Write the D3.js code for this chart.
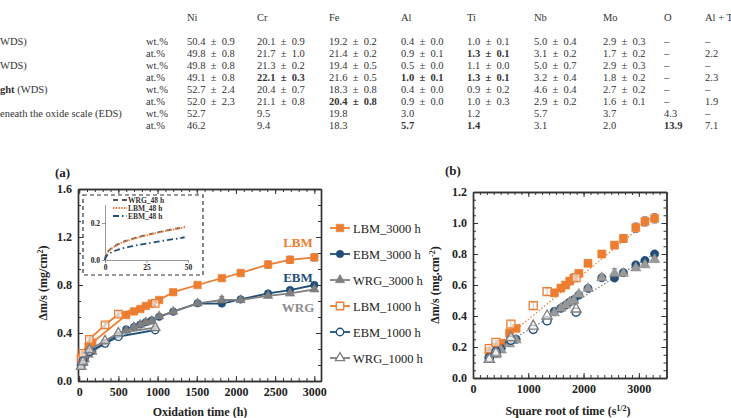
<!DOCTYPE html>
<html>
<head>
<meta charset="utf-8">
<script src="https://cdn.jsdelivr.net/npm/d3@7"></script>
<style>
  body { margin: 0; background: #fff; }
  text { font-family: "Liberation Serif", "Times New Roman", serif; }
</style>
</head>
<body>
<svg id="chart" width="731" height="418"></svg>
<script>
// ---- table data ----
const tableHeaders = ['Ni', 'Cr', 'Fe', 'Al', 'Ti', 'Nb', 'Mo', 'O', 'Al + T'];
const tableRowLabels = ['WDS)', '', 'WDS)', '', '*ght| (WDS)', '', 'eneath the oxide scale (EDS)', ''];
const tableUnits = ['wt.%', 'at.%', 'wt.%', 'at.%', 'wt.%', 'at.%', 'wt.%', 'at.%'];
// a leading * marks a bold cell
const tableRows = [
  ['50.4 ± 0.9', '20.1 ± 0.9', '19.2 ± 0.2', '0.4 ± 0.0', '1.0 ± 0.1', '5.0 ± 0.4', '2.9 ± 0.3', '–', '–'],
  ['49.8 ± 0.8', '21.7 ± 1.0', '21.4 ± 0.2', '0.9 ± 0.1', '*1.3 ± 0.1', '3.1 ± 0.2', '1.7 ± 0.2', '–', '2.2'],
  ['49.8 ± 0.8', '21.3 ± 0.2', '19.4 ± 0.5', '0.5 ± 0.0', '1.1 ± 0.0', '5.0 ± 0.7', '2.9 ± 0.3', '–', '–'],
  ['49.1 ± 0.8', '*22.1 ± 0.3', '21.6 ± 0.5', '*1.0 ± 0.1', '*1.3 ± 0.1', '3.2 ± 0.4', '1.8 ± 0.2', '–', '2.3'],
  ['52.7 ± 2.4', '20.4 ± 0.7', '18.3 ± 0.8', '0.4 ± 0.0', '0.9 ± 0.2', '4.6 ± 0.4', '2.7 ± 0.2', '–', '–'],
  ['52.0 ± 2.3', '21.1 ± 0.8', '*20.4 ± 0.8', '0.9 ± 0.0', '1.0 ± 0.3', '2.9 ± 0.2', '1.6 ± 0.1', '–', '1.9'],
  ['52.7', '9.5', '19.8', '3.0', '1.2', '5.7', '3.7', '4.3', '–'],
  ['46.2', '9.4', '18.3', '*5.7', '*1.4', '3.1', '2.0', '*13.9', '7.1']
];

// ---- chart (a): mass gain vs oxidation time ----
const timeLong = [24, 48, 72, 120, 168, 600, 700, 780, 850, 925, 1020, 1200, 1510, 1820, 2060, 2410, 2690, 3000];
const timeShort = [24, 48, 130, 330, 500, 970];

const lbm3000 = [0.17, 0.20, 0.225, 0.29, 0.32, 0.55, 0.58, 0.60, 0.625, 0.645, 0.675, 0.74, 0.80, 0.857, 0.90, 0.97, 1.01, 1.03];
const ebm3000 = [0.13, 0.16, 0.19, 0.23, 0.25, 0.43, 0.45, 0.47, 0.49, 0.505, 0.535, 0.578, 0.647, 0.645, 0.68, 0.73, 0.758, 0.80];
const wrg3000 = [0.12, 0.15, 0.18, 0.22, 0.245, 0.42, 0.45, 0.47, 0.49, 0.50, 0.54, 0.578, 0.647, 0.675, 0.675, 0.71, 0.73, 0.764];
const lbm1000 = [0.19, 0.23, 0.347, 0.467, 0.557, 0.647];
const ebm1000 = [0.13, 0.17, 0.244, 0.314, 0.369, 0.425];
const wrg1000 = [0.12, 0.16, 0.26, 0.335, 0.40, 0.445];

const lbm3000Err = [0.01, 0.01, 0.01, 0.015, 0.015, 0.02, 0.02, 0.02, 0.02, 0.02, 0.02, 0.02, 0.02, 0.02, 0.025, 0.03, 0.03, 0.03];
const ebm3000Err = [0.01, 0.01, 0.01, 0.01, 0.01, 0.01, 0.01, 0.01, 0.01, 0.01, 0.01, 0.01, 0.01, 0.01, 0.015, 0.015, 0.015, 0.015];
const wrg3000Err = [0.01, 0.01, 0.01, 0.01, 0.01, 0.01, 0.01, 0.01, 0.01, 0.01, 0.01, 0.01, 0.015, 0.03, 0.015, 0.015, 0.015, 0.015];
const lbm1000Err = [0.01, 0.01, 0.02, 0.02, 0.02, 0.02];
const ebm1000Err = [0.01, 0.01, 0.01, 0.01, 0.01, 0.01];
const wrg1000Err = [0.01, 0.01, 0.01, 0.01, 0.01, 0.01];

// inset: first 48 h
const insetTime = [0, 0.5, 1, 2, 4, 6, 8, 10, 15, 20, 25, 30, 35, 40, 45, 48];
const wrg48 = [0, 0.025, 0.035, 0.048, 0.064, 0.076, 0.086, 0.095, 0.11, 0.124, 0.135, 0.146, 0.156, 0.165, 0.174, 0.18];
const lbm48 = [0, 0.024, 0.034, 0.047, 0.062, 0.074, 0.084, 0.093, 0.108, 0.122, 0.133, 0.144, 0.154, 0.163, 0.171, 0.177];
const ebm48 = [0, 0.015, 0.022, 0.031, 0.042, 0.05, 0.056, 0.062, 0.072, 0.081, 0.089, 0.097, 0.104, 0.111, 0.118, 0.123];

// ---- chart (b): mass gain vs square root of time ----
const sqrtLong = [290, 415, 510, 660, 780, 1470, 1590, 1675, 1750, 1825, 1915, 2080, 2330, 2560, 2720, 2945, 3110, 3285];
const sqrtShort = [295, 415, 685, 1090, 1340, 1865];
const lbmFitX = [260, 3320];
const lbmFitY = [0.16, 1.06];
const grayFitX = [260, 3320];
const grayFitY = [0.15, 0.81];

const ORANGE = '#ED7D31', BLUE = '#1F4E79', GRAY = '#7F7F7F';

const svg = d3.select('#chart');

// ---- table ----
const colX = [187, 257, 329, 401, 467, 534, 603, 664, 705];
const tableTop = 21, rowTop = 45, rowStep = 12;
const table = svg.append('g').attr('fill', '#333').attr('font-size', 10.5);

table.selectAll('.th').data(tableHeaders).join('text')
  .attr('x', (d, i) => colX[i]).attr('y', tableTop).text(d => d);

function addCell(sel, str) {
  // handles "*bold|rest" and "*bold" forms; widens the gaps around ±
  const bold = str.startsWith('*');
  const body = (bold ? str.slice(1) : str).replace(' ± ', '\u2002±\u2002');
  const parts = body.split('|');
  sel.append('tspan').attr('font-weight', bold ? 'bold' : 'normal').text(parts[0]);
  if (parts[1]) sel.append('tspan').text(parts[1]);
}

tableRows.forEach((row, r) => {
  const y = rowTop + r * rowStep;
  if (tableRowLabels[r]) addCell(table.append('text').attr('x', 0).attr('y', y), tableRowLabels[r]);
  table.append('text').attr('x', 146).attr('y', y).text(tableUnits[r]);
  row.forEach((cell, c) => addCell(table.append('text').attr('x', colX[c]).attr('y', y), cell));
});

// ---- helpers ----
function styleAxis(g, width) {
  g.attr('font-family', null).attr('font-size', null);
  g.select('.domain').attr('stroke', '#333').attr('stroke-width', width);
  g.selectAll('.tick line').attr('stroke', '#333').attr('stroke-width', 1);
  g.selectAll('.tick text').attr('fill', '#222').attr('font-weight', 'bold').attr('font-size', 12);
}

// four-sided frame with inward major and minor ticks
function drawFrame(x, y, o) {
  const [xa, xb] = x.range();
  const [ya, yb] = y.range();
  const g = svg.append('g');
  const sides = [
    [d3.axisBottom, x, `translate(0,${ya})`, o.xMajor, o.xMinor, o.xFmt],
    [d3.axisTop, x, `translate(0,${yb})`, o.xMajor, o.xMinor, null],
    [d3.axisLeft, y, `translate(${xa},0)`, o.yMajor, o.yMinor, o.yFmt],
    [d3.axisRight, y, `translate(${xb},0)`, o.yMajor, o.yMinor, null]
  ];
  sides.forEach(([axisFn, scale, tr, major, minor, fmt]) => {
    g.append('g').attr('transform', tr)
      .call(axisFn(scale).tickValues(minor).tickSize(-3).tickSizeOuter(0).tickFormat(''))
      .call(s => styleAxis(s, 1.4));
    g.append('g').attr('transform', tr)
      .call(axisFn(scale).tickValues(major).tickSize(-5).tickSizeOuter(0).tickPadding(6)
        .tickFormat(fmt ? fmt : ''))
      .call(s => styleAxis(s, 1.4));
  });
  return g;
}

function drawSeries(g, x, y, xs, vs, errs, st) {
  const pts = xs.map((t, i) => ({ x: t, v: vs[i], e: errs ? errs[i] : 0 }));
  if (st.line) {
    g.append('path').datum(pts)
      .attr('d', d3.line().x(d => x(d.x)).y(d => y(d.v)))
      .attr('fill', 'none').attr('stroke', st.color).attr('stroke-width', 1.8);
  }
  const eb = g.append('g').attr('stroke', '#555').attr('stroke-width', 0.8);
  const withErr = pts.filter(d => d.e > 0);
  eb.selectAll('.ev').data(withErr).join('line')
    .attr('x1', d => x(d.x)).attr('x2', d => x(d.x))
    .attr('y1', d => y(d.v - d.e)).attr('y2', d => y(d.v + d.e));
  eb.selectAll('.et').data(withErr).join('line')
    .attr('x1', d => x(d.x) - 2.5).attr('x2', d => x(d.x) + 2.5)
    .attr('y1', d => y(d.v + d.e)).attr('y2', d => y(d.v + d.e));
  eb.selectAll('.eb').data(withErr).join('line')
    .attr('x1', d => x(d.x) - 2.5).attr('x2', d => x(d.x) + 2.5)
    .attr('y1', d => y(d.v - d.e)).attr('y2', d => y(d.v - d.e));
  g.append('g').selectAll('path').data(pts).join('path')
    .attr('transform', d => `translate(${x(d.x)},${y(d.v)})`)
    .attr('d', d3.symbol().type(st.shape).size(st.size))
    .attr('fill', st.open ? '#fff' : st.fill || st.color)
    .attr('fill-opacity', st.open ? 0.6 : 1)
    .attr('stroke', st.color)
    .attr('stroke-width', st.open ? 1.3 : 0.6);
}

const styles = {
  lbm3000: { color: ORANGE, shape: d3.symbolSquare, size: 56, open: false, label: 'LBM_3000 h' },
  ebm3000: { color: BLUE, shape: d3.symbolCircle, size: 44, open: false, label: 'EBM_3000 h' },
  wrg3000: { color: GRAY, shape: d3.symbolTriangle, size: 38, open: false, label: 'WRG_3000 h' },
  lbm1000: { color: ORANGE, shape: d3.symbolSquare, size: 56, open: true, label: 'LBM_1000 h' },
  ebm1000: { color: BLUE, shape: d3.symbolCircle, size: 44, open: true, label: 'EBM_1000 h' },
  wrg1000: { color: GRAY, shape: d3.symbolTriangle, size: 38, open: true, label: 'WRG_1000 h' }
};

// ---- chart (a) ----
const xA = d3.scaleLinear().domain([-15, 3085]).range([78, 321]);
const yA = d3.scaleLinear().domain([0, 1.6]).range([381, 189]);

svg.append('text').attr('x', 55).attr('y', 177).attr('font-weight', 'bold')
  .attr('font-size', 13).attr('fill', '#222').text('(a)');

drawFrame(xA, yA, {
  xMajor: d3.range(0, 3001, 500), xMinor: d3.range(0, 3001, 100), xFmt: d3.format('d'),
  yMajor: d3.range(0, 1.601, 0.4), yMinor: d3.range(0, 1.601, 0.4 / 3), yFmt: d3.format('.1f')
});

const plotA = svg.append('g');
drawSeries(plotA, xA, yA, timeLong, lbm3000, lbm3000Err, { ...styles.lbm3000, line: true });
drawSeries(plotA, xA, yA, timeLong, ebm3000, ebm3000Err, { ...styles.ebm3000, line: true });
drawSeries(plotA, xA, yA, timeLong, wrg3000, wrg3000Err, { ...styles.wrg3000, line: true });
drawSeries(plotA, xA, yA, timeShort, lbm1000, lbm1000Err, { ...styles.lbm1000, line: true });
drawSeries(plotA, xA, yA, timeShort, ebm1000, ebm1000Err, { ...styles.ebm1000, line: true });
drawSeries(plotA, xA, yA, timeShort, wrg1000, wrg1000Err, { ...styles.wrg1000, line: true });

// direct labels
[['LBM', ORANGE, 247], ['EBM', BLUE, 282], ['WRG', '#8C8C8C', 312]].forEach(([t, c, y]) => {
  svg.append('text').attr('x', 298).attr('y', y).attr('text-anchor', 'middle')
    .attr('font-weight', 'bold').attr('font-size', 13).attr('fill', c).text(t);
});

// axis titles (a)
svg.append('text').attr('x', 200).attr('y', 416).attr('text-anchor', 'middle')
  .attr('font-weight', 'bold').attr('font-size', 12).attr('fill', '#222').text('Oxidation time (h)');
const yTitleA = svg.append('text').attr('transform', 'translate(47,283) rotate(-90)')
  .attr('text-anchor', 'middle').attr('font-weight', 'bold').attr('font-size', 12).attr('fill', '#222');
yTitleA.append('tspan').text('Δm/s (mg/cm');
yTitleA.append('tspan').attr('font-size', 8).attr('dy', -4).text('2');
yTitleA.append('tspan').attr('dy', 4).text(')');

// inset
const inset = svg.append('g');
inset.append('rect').attr('x', 83).attr('y', 195).attr('width', 120).attr('height', 80)
  .attr('fill', '#fff').attr('stroke', '#333').attr('stroke-width', 1.2).attr('stroke-dasharray', '4,3');
const xI = d3.scaleLinear().domain([0, 50]).range([105, 188]);
const yI = d3.scaleLinear().domain([0, 0.3]).range([260, 204.5]);
const insetAxisX = inset.append('g').attr('transform', 'translate(0,260)')
  .call(d3.axisBottom(xI).tickValues([0, 25, 50]).tickSize(3).tickSizeOuter(0).tickPadding(2));
const insetAxisY = inset.append('g').attr('transform', 'translate(105,0)')
  .call(d3.axisLeft(yI).tickValues([0, 0.2]).tickSize(3).tickSizeOuter(0).tickPadding(2).tickFormat(d3.format('.1f')));
[insetAxisX, insetAxisY].forEach(g => {
  g.attr('font-family', null).attr('font-size', null);
  g.select('.domain').attr('stroke', '#999');
  g.selectAll('.tick line').attr('stroke', '#999');
  g.selectAll('.tick text').attr('font-size', 7.5).attr('font-weight', 'bold').attr('fill', '#222');
});
const insetSeries = [
  { vals: wrg48, color: '#595959', dash: '5,4', label: 'WRG_48 h' },
  { vals: lbm48, color: ORANGE, dash: '1.5,1.2', label: 'LBM_48 h' },
  { vals: ebm48, color: BLUE, dash: '6,3,1.5,3', label: 'EBM_48 h' }
];
const insetLine = d3.line().x((d, i) => xI(insetTime[i])).y(d => yI(d)).curve(d3.curveMonotoneX);
insetSeries.forEach((s, k) => {
  inset.append('path').datum(s.vals).attr('d', insetLine).attr('fill', 'none')
    .attr('stroke', s.color).attr('stroke-width', 1.8).attr('stroke-dasharray', s.dash);
  const ly = 200 + k * 8;
  inset.append('line').attr('x1', 113).attr('x2', 127).attr('y1', ly).attr('y2', ly)
    .attr('stroke', s.color).attr('stroke-width', 1.8).attr('stroke-dasharray', s.dash);
  inset.append('text').attr('x', 128).attr('y', ly + 2.5).attr('font-size', 7.5)
    .attr('font-weight', 'bold').attr('fill', '#333').text(s.label);
});

// legend (a)
const legendKeys = ['lbm3000', 'ebm3000', 'wrg3000', 'lbm1000', 'ebm1000', 'wrg1000'];
legendKeys.forEach((k, i) => {
  const st = styles[k];
  const ly = 228 + i * 26;
  const lg = svg.append('g');
  lg.append('line').attr('x1', 330).attr('x2', 350).attr('y1', ly).attr('y2', ly)
    .attr('stroke', st.color).attr('stroke-width', 1.8);
  lg.append('path').attr('transform', `translate(340,${ly})`)
    .attr('d', d3.symbol().type(st.shape).size(st.size))
    .attr('fill', st.open ? '#fff' : st.color).attr('stroke', st.color)
    .attr('stroke-width', st.open ? 1.3 : 0.6);
  lg.append('text').attr('x', 353).attr('y', ly + 4.5).attr('font-size', 12.5)
    .attr('fill', '#222').text(st.label);
});

// ---- chart (b) ----
const xB = d3.scaleLinear().domain([0, 3500]).range([473, 666.5]);
const yB = d3.scaleLinear().domain([0, 1.2]).range([378, 192]);

svg.append('text').attr('x', 445).attr('y', 175).attr('font-weight', 'bold')
  .attr('font-size', 13).attr('fill', '#222').text('(b)');

drawFrame(xB, yB, {
  xMajor: d3.range(0, 3001, 1000), xMinor: d3.range(0, 3501, 125), xFmt: d3.format('d'),
  yMajor: d3.range(0, 1.201, 0.2), yMinor: d3.range(0, 1.201, 0.05), yFmt: d3.format('.1f')
});

const plotB = svg.append('g');
plotB.append('line').attr('x1', xB(lbmFitX[0])).attr('x2', xB(lbmFitX[1]))
  .attr('y1', yB(lbmFitY[0])).attr('y2', yB(lbmFitY[1]))
  .attr('stroke', ORANGE).attr('stroke-width', 1.2).attr('stroke-dasharray', '1.5,2');
plotB.append('line').attr('x1', xB(grayFitX[0])).attr('x2', xB(grayFitX[1]))
  .attr('y1', yB(grayFitY[0])).attr('y2', yB(grayFitY[1]))
  .attr('stroke', '#6E7B8B').attr('stroke-width', 1.2).attr('stroke-dasharray', '1.5,2');

drawSeries(plotB, xB, yB, sqrtLong, lbm3000, lbm3000Err, { ...styles.lbm3000, size: 64 });
drawSeries(plotB, xB, yB, sqrtLong, ebm3000, ebm3000Err, { ...styles.ebm3000, size: 54 });
drawSeries(plotB, xB, yB, sqrtLong, wrg3000, wrg3000Err, { ...styles.wrg3000, size: 46, fill: '#9A9A9A', color: '#8A8A8A' });
drawSeries(plotB, xB, yB, sqrtShort, lbm1000, lbm1000Err, { ...styles.lbm1000, size: 64 });
drawSeries(plotB, xB, yB, sqrtShort, ebm1000, null, { ...styles.ebm1000, size: 54 });
drawSeries(plotB, xB, yB, sqrtShort, wrg1000, null, { ...styles.wrg1000, size: 46 });

// axis titles (b)
const xTitleB = svg.append('text').attr('x', 568).attr('y', 415).attr('text-anchor', 'middle')
  .attr('font-weight', 'bold').attr('font-size', 12).attr('fill', '#222');
xTitleB.append('tspan').text('Square root of time (s');
xTitleB.append('tspan').attr('font-size', 8).attr('dy', -4).text('1/2');
xTitleB.append('tspan').attr('dy', 4).text(')');
const yTitleB = svg.append('text').attr('transform', 'translate(439,285) rotate(-90)')
  .attr('text-anchor', 'middle').attr('font-weight', 'bold').attr('font-size', 12).attr('fill', '#222');
yTitleB.append('tspan').text('Δm/s (mg.cm');
yTitleB.append('tspan').attr('font-size', 8).attr('dy', -4).text('-2');
yTitleB.append('tspan').attr('dy', 4).text(')');
</script>
</body>
</html>
